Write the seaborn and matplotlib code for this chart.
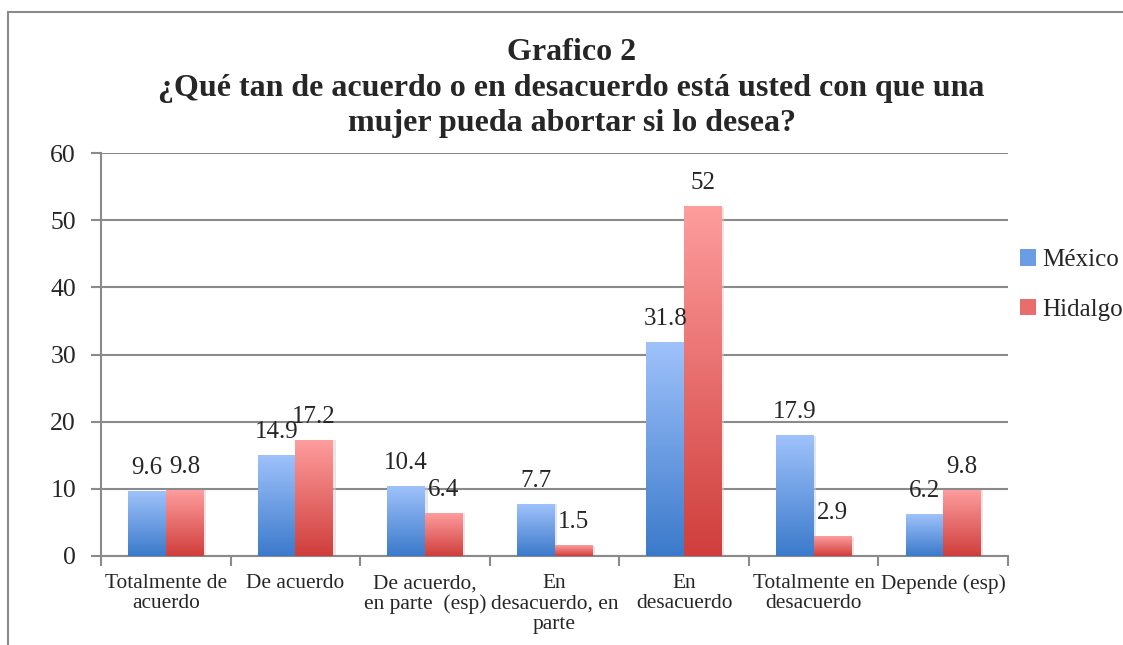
import numpy as np
import pandas as pd
import seaborn as sns
import matplotlib.pyplot as plt
from matplotlib.patches import Rectangle
from matplotlib.colors import LinearSegmentedColormap

categorias = ["Totalmente de\nacuerdo", "De acuerdo", "De acuerdo,\nen parte  (esp)",
              "En\ndesacuerdo, en\nparte", "En\ndesacuerdo", "Totalmente en\ndesacuerdo",
              "Depende (esp)"]
mexico = [9.6, 14.9, 10.4, 7.7, 31.8, 17.9, 6.2]
hidalgo = [9.8, 17.2, 6.4, 1.5, 52, 2.9, 9.8]
series = ["México", "Hidalgo"]
y_ticks = [0, 10, 20, 30, 40, 50, 60]
titulo = ["Grafico 2",
          "¿Qué tan de acuerdo o en desacuerdo está usted con que una",
          "mujer pueda abortar si lo desea?"]

df = pd.DataFrame({
    "cat": categorias * 2,
    "val": mexico + hidalgo,
    "serie": [series[0]] * len(categorias) + [series[1]] * len(categorias),
})

sns.set_style("white")
plt.rcParams["font.family"] = ["Liberation Serif", "DejaVu Serif"]

# light top -> dark bottom, like the office gradient fill
grad = {
    "México": ("#9fc2fb", "#3b7acb"),
    "Hidalgo": ("#fe9d9d", "#cf3e3c"),
}
mid = {"México": "#6b9de4", "Hidalgo": "#e86d6c"}

fig = plt.figure(figsize=(11.23, 6.45), dpi=100)
ax = fig.add_axes([101 / 1123, 1 - 556 / 645, (1008 - 101) / 1123, (556 - 153) / 645])

sns.barplot(data=df, x="cat", y="val", hue="serie", order=categorias,
            hue_order=series, palette=mid, width=0.58, gap=0,
            edgecolor="none", ax=ax, legend=False)

ax.set_xlim(-0.5, len(categorias) - 0.5)
ax.set_ylim(0, 60)

n = len(categorias)
for i, p in enumerate(ax.patches[:2 * n]):
    serie = series[i // n]
    x0, y0 = p.get_x(), p.get_y()
    w, h = p.get_width(), p.get_height()
    cmap = LinearSegmentedColormap.from_list(serie, [grad[serie][1], grad[serie][0]])
    img = np.linspace(0, 1, 256).reshape(-1, 1)
    ax.imshow(img, cmap=cmap, origin="lower", aspect="auto",
              extent=[x0, x0 + w, y0, y0 + h], zorder=3)
    # faint shadow to the right
    ax.add_patch(Rectangle((x0 + 0.02, y0), w, h, facecolor="#cfcfcf",
                           alpha=0.5, edgecolor="none", zorder=2))
    p.set_alpha(0)
    ax.annotate(f"{h:g}", (x0 + w / 2, y0 + h), xytext=(0, 9),
                textcoords="offset points", ha="center", va="bottom",
                fontsize=18, zorder=5)

ax.set_xlim(-0.5, len(categorias) - 0.5)
ax.set_ylim(0, 60)

ax.set_yticks(y_ticks)
ax.set_yticklabels([str(t) for t in y_ticks], fontsize=18.5)
ax.yaxis.grid(True, color="#8a8a8a", linewidth=1.5, zorder=0)
ax.set_axisbelow(True)
ax.tick_params(axis="y", length=7, width=1.5, color="#8a8a8a", pad=11, left=True)

ax.set_xticks(range(n))
ax.set_xticklabels(categorias, fontsize=15.4, linespacing=1.1)
ax.set_xticks(np.arange(-0.5, n, 1), minor=True)
ax.tick_params(axis="x", which="major", length=0, pad=13)
ax.tick_params(axis="x", which="minor", length=7, width=1.5, color="#8a8a8a", bottom=True)
ax.set_xlabel("")
ax.set_ylabel("")

for s in ["top", "right"]:
    ax.spines[s].set_visible(False)
for s in ["left", "bottom"]:
    ax.spines[s].set_color("#8a8a8a")
    ax.spines[s].set_linewidth(1.5)

# title lines, baselines
for linea, base in zip(titulo, [60, 96, 131]):
    fig.text(0.509, 1 - base / 645, linea, ha="center", va="baseline",
             fontsize=23, fontweight="bold")

handles = [Rectangle((0, 0), 1, 1, facecolor=mid[s], edgecolor="none") for s in series]
fig.legend(handles, series, loc="center left", bbox_to_anchor=(1010 / 1123, 1 - 285 / 645),
           frameon=False, fontsize=18, handlelength=0.65, handleheight=0.65,
           handletextpad=0.25, labelspacing=1.1, borderaxespad=0)

fig.add_artist(Rectangle((8 / 1123, -0.1), 1.2, 0.1 + 1 - 12 / 645,
                         transform=fig.transFigure, fill=False,
                         edgecolor="#8a8a8a", linewidth=1.5))

fig.savefig("out.png", dpi=100)
